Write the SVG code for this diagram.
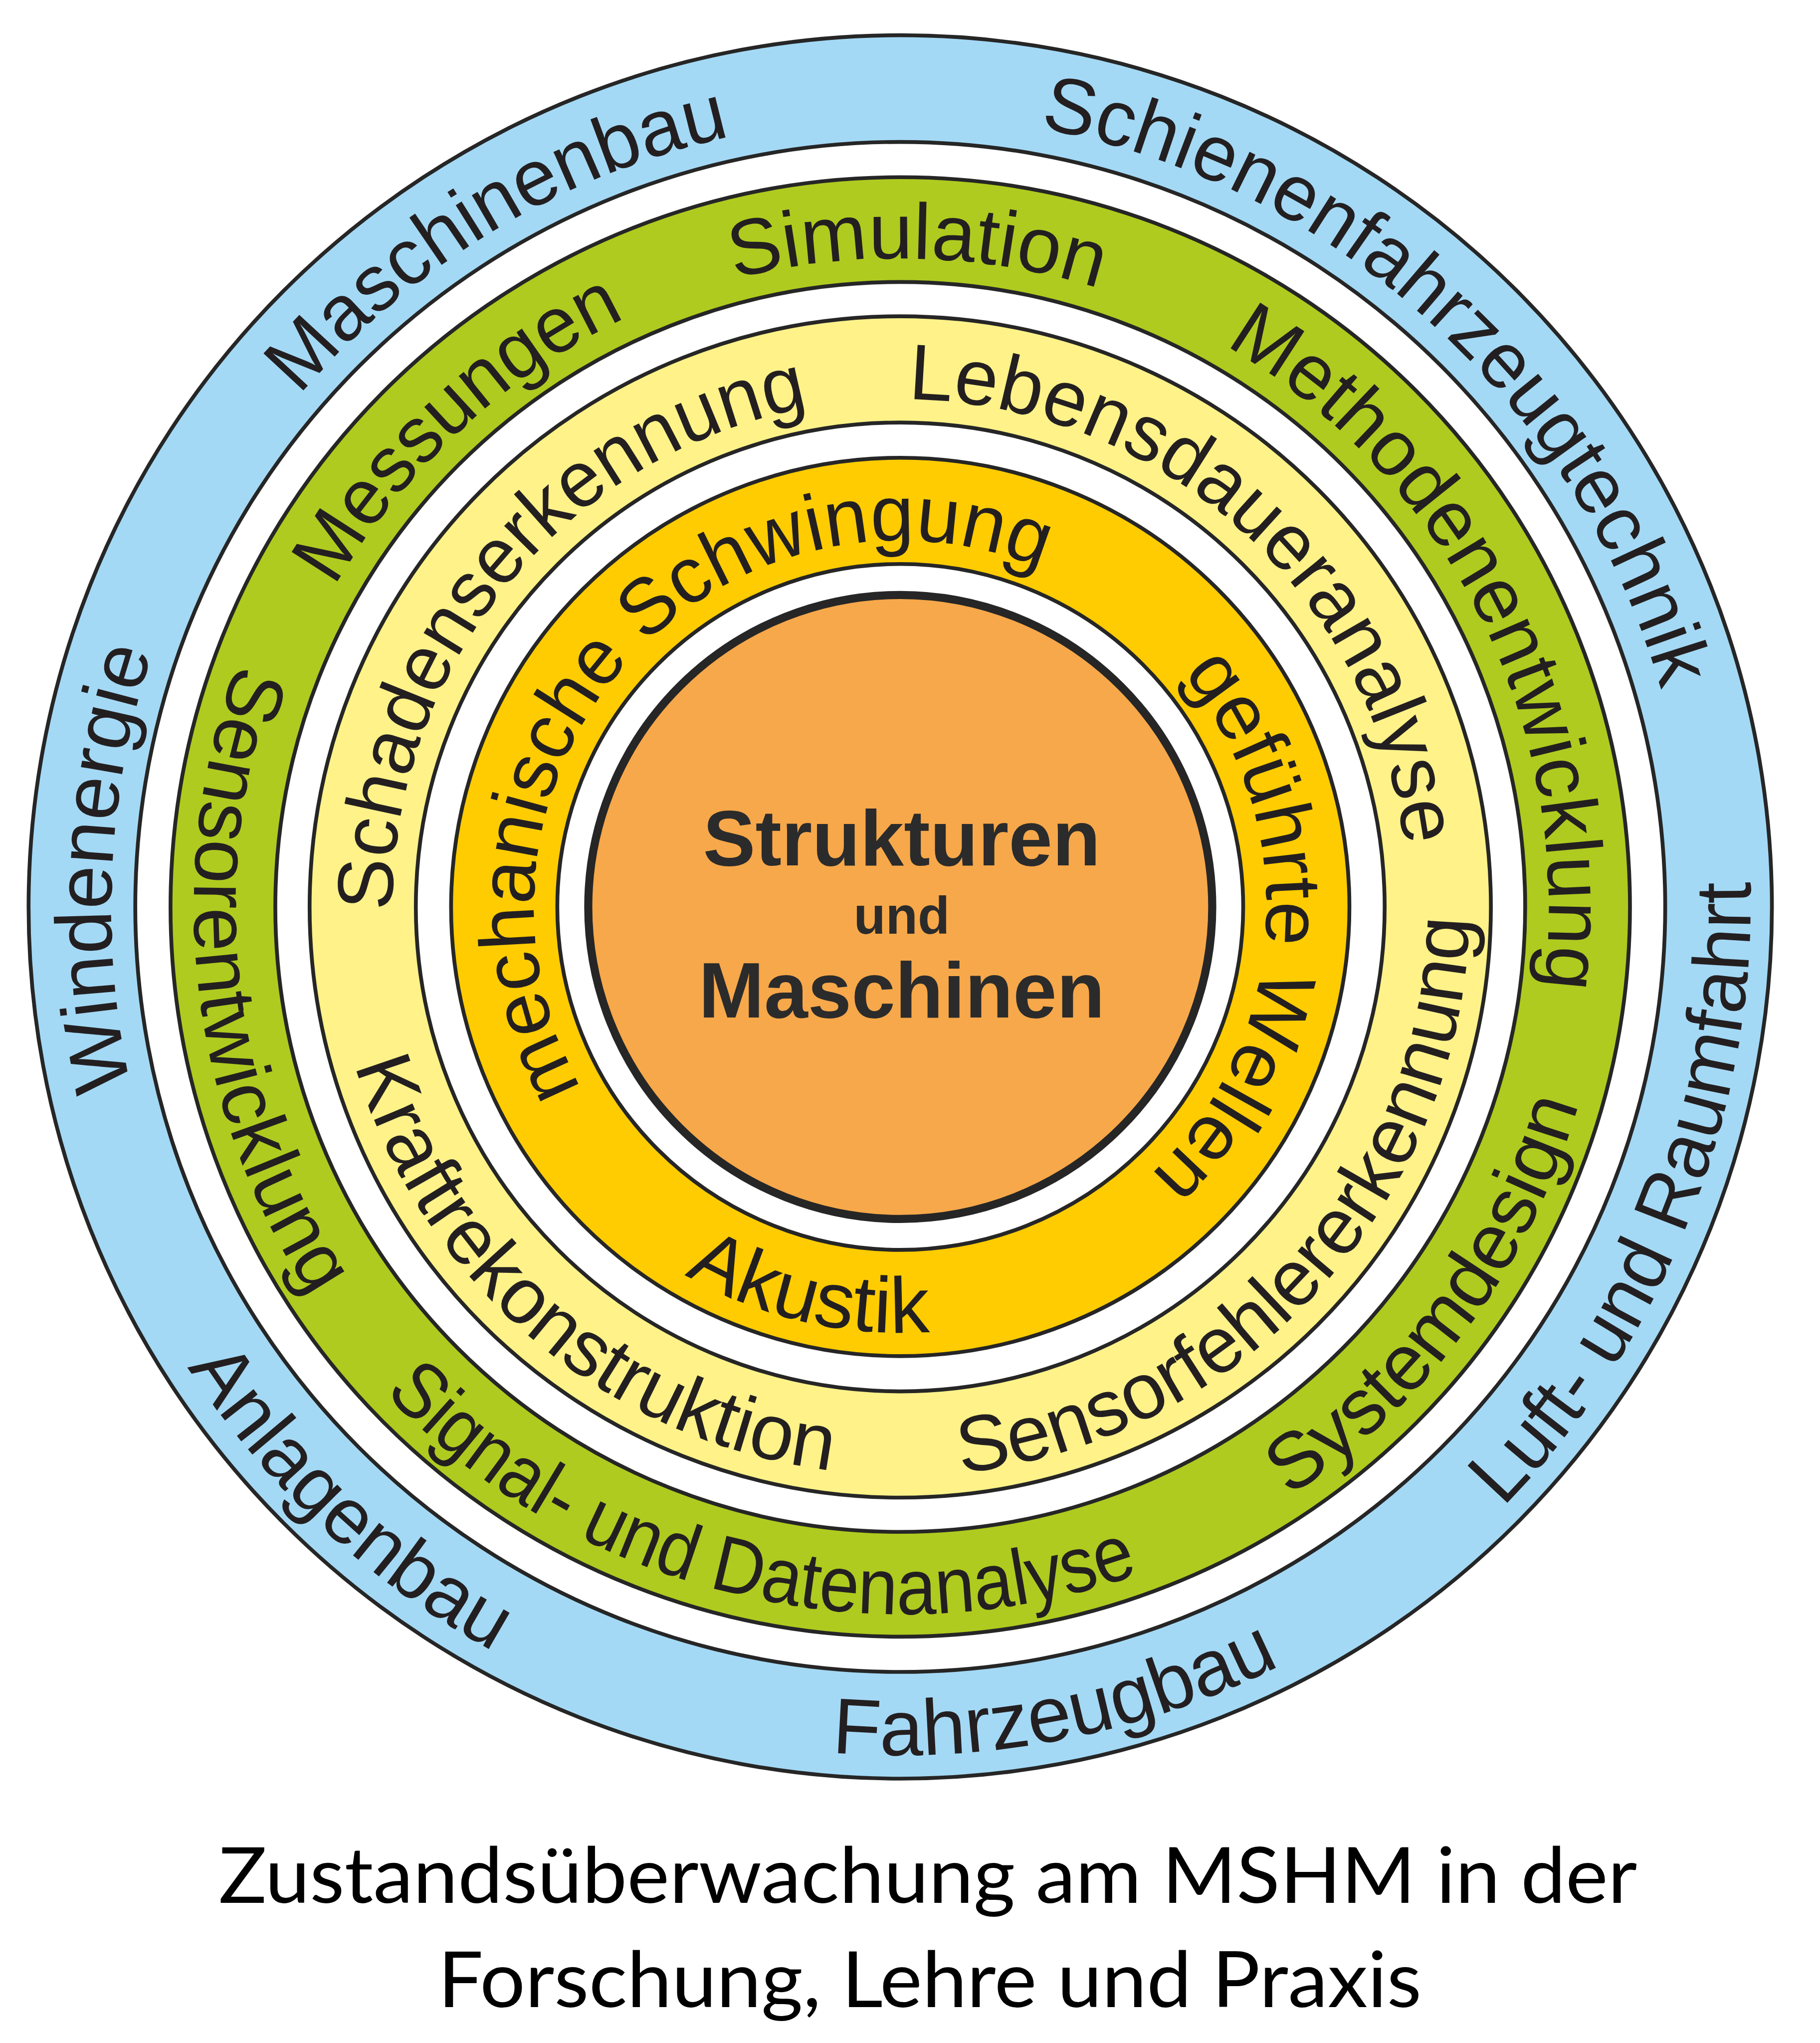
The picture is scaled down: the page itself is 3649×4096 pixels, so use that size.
<svg xmlns="http://www.w3.org/2000/svg" xmlns:xlink="http://www.w3.org/1999/xlink" width="3649" height="4096" viewBox="0 0 3649 4096">
<style>
.ln{stroke:#262626;stroke-width:8}
.lbl{font-family:"Liberation Sans",Arial,sans-serif;font-size:166px;fill:#231f20;text-anchor:middle}
.ctr{font-family:"Liberation Sans",Arial,sans-serif;font-weight:bold;fill:#2b2b2b;text-anchor:middle}
.cap{font-family:Lato,"Open Sans",sans-serif;font-size:162px;fill:#000;text-anchor:middle}
</style>
<defs>
<path id="p1" d="M2742.9,3323.5 A1656,1656 0 1 1 1037.1,484.5 A1656,1656 0 1 1 2742.9,3323.5"/>
<path id="p2" d="M779.8,3132.7 A1656,1656 0 1 1 3000.2,675.3 A1656,1656 0 1 1 779.8,3132.7"/>
<path id="p3" d="M3544,1984.9 A1656,1656 0 1 1 236,1823.1 A1656,1656 0 1 1 3544,1984.9"/>
<path id="p4" d="M234.1,1248.4 A1781,1781 0 1 0 3545.9,2559.6 A1781,1781 0 1 0 234.1,1248.4"/>
<path id="p5" d="M1550.2,155.7 A1781,1781 0 1 0 2229.8,3652.3 A1781,1781 0 1 0 1550.2,155.7"/>
<path id="p6" d="M3102.4,599.3 A1781,1781 0 1 0 677.6,3208.7 A1781,1781 0 1 0 3102.4,599.3"/>
<path id="p7" d="M1854.4,3264.5 A1361,1361 0 1 1 1925.6,543.5 A1361,1361 0 1 1 1854.4,3264.5"/>
<path id="p8" d="M2813.8,2903.4 A1361,1361 0 1 1 966.2,904.6 A1361,1361 0 1 1 2813.8,2903.4"/>
<path id="p9" d="M670.9,2509.2 A1361,1361 0 1 1 3109.1,1298.8 A1361,1361 0 1 1 670.9,2509.2"/>
<path id="p10" d="M696.3,1024 A1483,1483 0 1 0 3083.7,2784 A1483,1483 0 1 0 696.3,1024"/>
<path id="p11" d="M2236.2,462 A1483,1483 0 1 0 1543.8,3346 A1483,1483 0 1 0 2236.2,462"/>
<path id="p12" d="M3362.9,1731 A1483,1483 0 1 0 417.1,2077 A1483,1483 0 1 0 3362.9,1731"/>
<path id="p13" d="M2711.4,2583.5 A1066,1066 0 1 1 1068.6,1224.5 A1066,1066 0 1 1 2711.4,2583.5"/>
<path id="p14" d="M1176.7,2696.2 A1066,1066 0 1 1 2603.3,1111.8 A1066,1066 0 1 1 1176.7,2696.2"/>
<path id="p15" d="M2661.9,997 A1191,1191 0 1 0 1118.1,2811 A1191,1191 0 1 0 2661.9,997"/>
<path id="p16" d="M1011.9,1099.4 A1191,1191 0 1 0 2768.1,2708.6 A1191,1191 0 1 0 1011.9,1099.4"/>
<path id="p17" d="M2466,2413.6 A769,769 0 1 1 1314,1394.4 A769,769 0 1 1 2466,2413.6"/>
<path id="p18" d="M1122.6,1854.4 A769,769 0 1 1 2657.4,1953.6 A769,769 0 1 1 1122.6,1854.4"/>
<path id="p19" d="M2094.1,1033.6 A894,894 0 1 0 1685.9,2774.4 A894,894 0 1 0 2094.1,1033.6"/>
</defs>
<rect width="3649" height="4096" fill="#fff"/>
<g transform="scale(0.955)">
<g id="ring-blue">
<circle class="ln" cx="1890" cy="1904" r="1830" fill="#a4d9f5"/>
<circle class="ln" cx="1890" cy="1904" r="1606" fill="#fff"/>
<text class="lbl"><textPath xlink:href="#p1" href="#p1" startOffset="50%" textLength="1075" lengthAdjust="spacingAndGlyphs">Maschinenbau</textPath></text>
<text class="lbl"><textPath xlink:href="#p2" href="#p2" startOffset="50%" textLength="1850" lengthAdjust="spacingAndGlyphs">Schienenfahrzeugtechnik</textPath></text>
<text class="lbl"><textPath xlink:href="#p3" href="#p3" startOffset="50%" textLength="925" lengthAdjust="spacingAndGlyphs">Windenergie</textPath></text>
<text class="lbl"><textPath xlink:href="#p4" href="#p4" startOffset="50%" textLength="1450" lengthAdjust="spacingAndGlyphs">Luft- und Raumfahrt</textPath></text>
<text class="lbl"><textPath xlink:href="#p5" href="#p5" startOffset="50%" textLength="972" lengthAdjust="spacingAndGlyphs">Fahrzeugbau</textPath></text>
<text class="lbl"><textPath xlink:href="#p6" href="#p6" startOffset="50%" textLength="886" lengthAdjust="spacingAndGlyphs">Anlagenbau</textPath></text>
</g>
<g id="ring-green">
<circle class="ln" cx="1890" cy="1904" r="1532" fill="#afcb1f"/>
<circle class="ln" cx="1890" cy="1904" r="1312" fill="#fff"/>
<text class="lbl"><textPath xlink:href="#p7" href="#p7" startOffset="50%" textLength="775" lengthAdjust="spacingAndGlyphs">Simulation</textPath></text>
<text class="lbl"><textPath xlink:href="#p8" href="#p8" startOffset="50%" textLength="845" lengthAdjust="spacingAndGlyphs">Messungen</textPath></text>
<text class="lbl"><textPath xlink:href="#p9" href="#p9" startOffset="50%" textLength="1595" lengthAdjust="spacingAndGlyphs">Methodenentwicklung</textPath></text>
<text class="lbl"><textPath xlink:href="#p10" href="#p10" startOffset="50%" textLength="1045" lengthAdjust="spacingAndGlyphs">Systemdesign</textPath></text>
<text class="lbl"><textPath xlink:href="#p11" href="#p11" startOffset="50%" textLength="1721" lengthAdjust="spacingAndGlyphs">Signal- und Datenanalyse</textPath></text>
<text class="lbl"><textPath xlink:href="#p12" href="#p12" startOffset="50%" textLength="1392" lengthAdjust="spacingAndGlyphs">Sensorentwicklung</textPath></text>
</g>
<g id="ring-yellow">
<circle class="ln" cx="1890" cy="1904" r="1240" fill="#fef289"/>
<circle class="ln" cx="1890" cy="1904" r="1017" fill="#fff"/>
<text class="lbl"><textPath xlink:href="#p13" href="#p13" startOffset="50%" textLength="1490" lengthAdjust="spacingAndGlyphs">Schadenserkennung</textPath></text>
<text class="lbl"><textPath xlink:href="#p14" href="#p14" startOffset="50%" textLength="1530" lengthAdjust="spacingAndGlyphs">Lebensdaueranalyse</textPath></text>
<text class="lbl"><textPath xlink:href="#p15" href="#p15" startOffset="50%" textLength="1390" lengthAdjust="spacingAndGlyphs">Kraftrekonstruktion</textPath></text>
<text class="lbl"><textPath xlink:href="#p16" href="#p16" startOffset="50%" textLength="1724" lengthAdjust="spacingAndGlyphs">Sensorfehlererkennung</textPath></text>
</g>
<g id="ring-gold">
<circle class="ln" cx="1890" cy="1904" r="943" fill="#fecc00"/>
<circle class="ln" cx="1890" cy="1904" r="720" fill="#fff"/>
<text class="lbl"><textPath xlink:href="#p17" href="#p17" startOffset="50%" textLength="1910" lengthAdjust="spacingAndGlyphs">mechanische Schwingung</textPath></text>
<text class="lbl"><textPath xlink:href="#p18" href="#p18" startOffset="50%" textLength="1162" lengthAdjust="spacingAndGlyphs">geführte Wellen</textPath></text>
<text class="lbl"><textPath xlink:href="#p19" href="#p19" startOffset="50%" textLength="537" lengthAdjust="spacingAndGlyphs">Akustik</textPath></text>
</g>
<g id="center">
<circle cx="1890" cy="1904" r="655" fill="#f7a84a" stroke="#262626" stroke-width="17"/>
<text class="ctr" x="1893" y="1817" font-size="165">Strukturen</text>
<text class="ctr" x="1893" y="1960" font-size="110">und</text>
<text class="ctr" x="1893" y="2136" font-size="165">Maschinen</text>
</g>
<g id="connectors"/>
<g id="caption">
<text class="cap" x="1948" y="3995" textLength="2978" lengthAdjust="spacingAndGlyphs">Zustandsüberwachung am MSHM in der</text>
<text class="cap" x="1952" y="4214" textLength="2065" lengthAdjust="spacingAndGlyphs">Forschung, Lehre und Praxis</text>
</g>
</g>
</svg>
